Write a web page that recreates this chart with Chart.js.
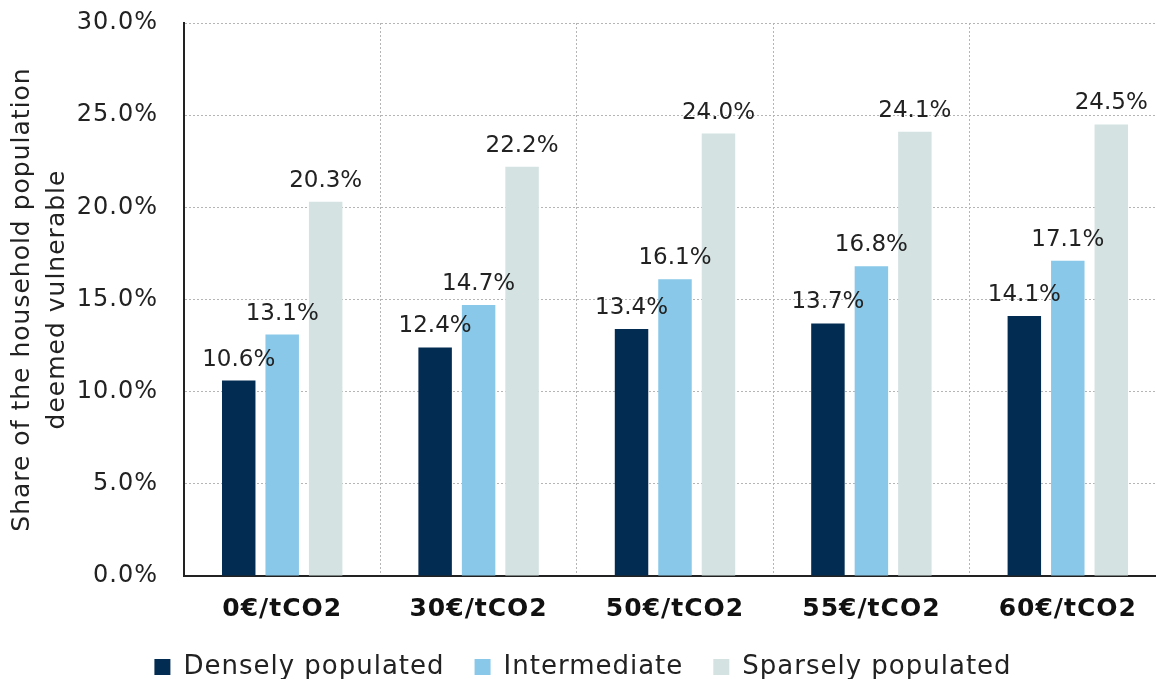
<!DOCTYPE html>
<html>
<head>
<meta charset="utf-8">
<script src="https://cdn.jsdelivr.net/npm/chart.js@4.4.1/dist/chart.umd.min.js"></script>
<style>
  html, body { margin: 0; padding: 0; background: #fff; overflow: hidden; }
  #wrap { width: 1170px; height: 679px; position: relative; }
</style>
</head>
<body>
<div id="wrap"><canvas id="c"></canvas></div>
<script>
const categories = ['0€/tCO2', '30€/tCO2', '50€/tCO2', '55€/tCO2', '60€/tCO2'];
const densely = [10.6, 12.4, 13.4, 13.7, 14.1];
const intermediate = [13.1, 14.7, 16.1, 16.8, 17.1];
const sparsely = [20.3, 22.2, 24.0, 24.1, 24.5];
const seriesNames = ['Densely populated', 'Intermediate', 'Sparsely populated'];
const yTitle = ['Share of the household population', 'deemed vulnerable'];

const FONT = "'DejaVu Sans', sans-serif";
const SPACING = '1px';

const spacingPlugin = {
  id: 'spacing',
  beforeLayout(chart) { chart.ctx.letterSpacing = SPACING; },
  beforeDraw(chart) { chart.ctx.letterSpacing = SPACING; }
};

const labelPlugin = {
  id: 'barLabels',
  afterDatasetsDraw(chart) {
    const ctx = chart.ctx;
    ctx.save();
    ctx.letterSpacing = '0px';
    ctx.font = '23px ' + FONT;
    ctx.fillStyle = '#222';
    ctx.textAlign = 'center';
    ctx.textBaseline = 'alphabetic';
    chart.data.datasets.forEach((ds, di) => {
      const meta = chart.getDatasetMeta(di);
      meta.data.forEach((bar, i) => {
        ctx.fillText(ds.data[i].toFixed(1) + '%', bar.x, bar.y - 15);
      });
    });
    ctx.restore();
  }
};

new Chart(document.getElementById('c'), {
  type: 'bar',
  data: {
    labels: categories,
    datasets: [
      { label: seriesNames[0], data: densely, backgroundColor: '#022c51' },
      { label: seriesNames[1], data: intermediate, backgroundColor: '#89c8e8' },
      { label: seriesNames[2], data: sparsely, backgroundColor: '#d4e3e2' }
    ]
  },
  options: {
    responsive: true,
    maintainAspectRatio: false,
    animation: false,
    categoryPercentage: 0.664,
    barPercentage: 0.77,
    layout: { padding: { top: 0, right: 4, left: 0, bottom: -11 } },
    plugins: {
      legend: {
        position: 'bottom',
        labels: {
          font: { family: FONT, size: 26 },
          color: '#222',
          boxWidth: 16,
          boxHeight: 16,
          padding: 30
        }
      },
      tooltip: { enabled: false }
    },
    scales: {
      x: {
        grid: { display: true, color: '#b5b5b5', lineWidth: 1, drawTicks: false, offset: true },
        border: { display: true, color: '#222', width: 2, dash: [2, 2] },
        ticks: { font: { family: FONT, size: 25, weight: 'bold' }, color: '#111', padding: 18 },
        afterFit(scale) { scale.height = 48; }
      },
      y: {
        min: 0, max: 30,
        grid: { color: '#b5b5b5', lineWidth: 1, drawTicks: false },
        border: { display: true, color: '#222', width: 2, dash: [2, 2] },
        ticks: {
          stepSize: 5,
          font: { family: FONT, size: 24 },
          color: '#222',
          padding: 26,
          callback: v => v.toFixed(1) + '%'
        },
        title: {
          display: true,
          text: yTitle,
          font: { family: FONT, size: 25, lineHeight: 1.4 },
          color: '#222',
          padding: { top: 5, bottom: 0 }
        },
        afterFit(scale) { scale.width = 184; scale.paddingTop = 23; scale.paddingBottom = 0; }
      }
    }
  },
  plugins: [spacingPlugin, labelPlugin]
});
</script>
</body>
</html>
